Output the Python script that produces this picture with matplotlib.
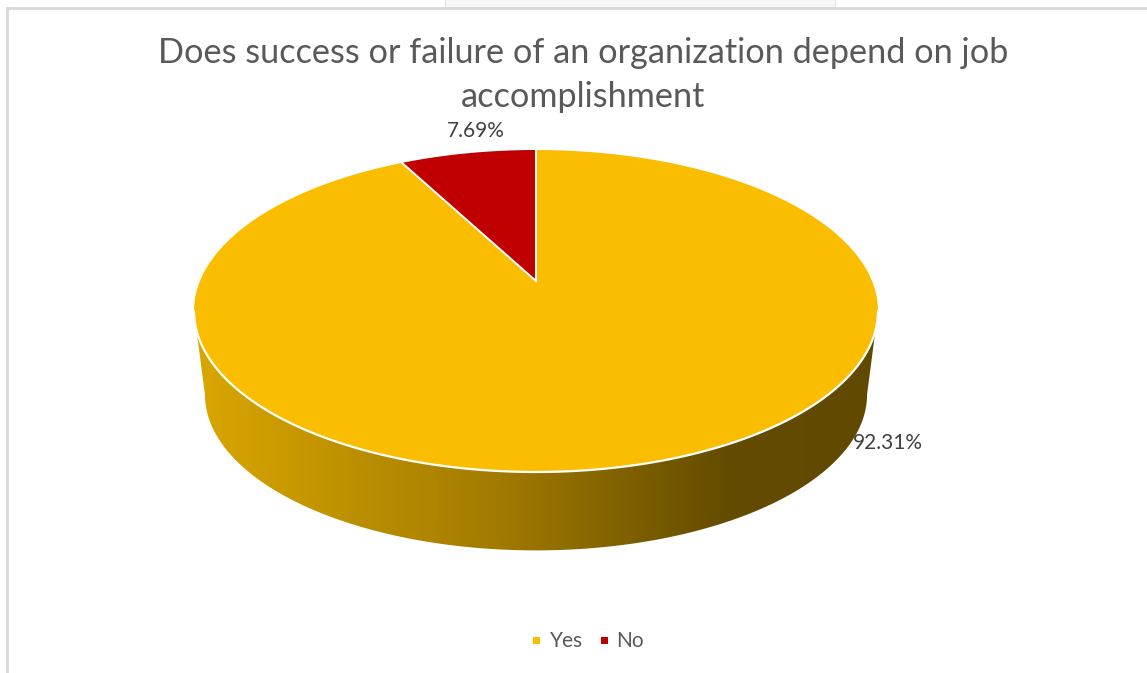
import numpy as np
import matplotlib
matplotlib.use("Agg")
import matplotlib.pyplot as plt
from matplotlib.patches import Polygon, Rectangle
from matplotlib.colors import LinearSegmentedColormap
from matplotlib.lines import Line2D

# ---- data ----
categories = ["Yes", "No"]
percentages = [92.31, 7.69]
slice_colors = ["#FABD00", "#C00000"]
label_text = ["92.31%", "7.69%"]
title = "Does success or failure of an organization depend on job\naccomplishment"

W, H = 1147, 673
fig = plt.figure(figsize=(W / 100, H / 100), dpi=100)
ax = fig.add_axes([0, 0, 1, 1])
ax.set_xlim(0, W)
ax.set_ylim(H, 0)
ax.axis("off")

FONT = ["Lato", "DejaVu Sans"]

# ---- 3D pie geometry (perspective-projected disc) ----
cx, cy = 536.0, 281.0       # projected centre of the top face
A, B, k = 336.0, 155.4, 0.1864
s_bot, dy_bot = 0.968, 84.5


def top_pt(t):
    u, v = np.sin(t), np.cos(t)
    d = 1 + k * v
    return cx + A * u / d, cy - B * v / d


def bot_pt(t):
    u, v = np.sin(t), np.cos(t)
    d = 1 + k * v
    return cx + s_bot * A * u / d, cy + dy_bot - s_bot * B * v / d


# side wall: near half between the two silhouette points
t_r = np.arccos(-k)
t_l = 2 * np.pi - t_r
tt = np.linspace(t_r, t_l, 400)
tx, ty = top_pt(tt)
bx, by = bot_pt(tt[::-1])
side_xy = np.column_stack([np.r_[tx, bx], np.r_[ty, by]])
side = Polygon(side_xy, closed=True, facecolor="none", edgecolor="none")
ax.add_patch(side)

grad_cmap = LinearSegmentedColormap.from_list(
    "side", [(0.0, "#DBA700"), (0.45, "#A17A00"), (0.78, "#634B00"), (1.0, "#614900")])
gx = np.linspace(0, 1, 512)[None, :]
img = ax.imshow(gx, cmap=grad_cmap, aspect="auto",
                extent=[190, 882, 560, 300], zorder=2, interpolation="bilinear")
img.set_clip_path(side)

# top face wedges, clockwise from 12 o'clock
fractions = np.array(percentages) / sum(percentages)
bounds = np.r_[0, np.cumsum(fractions)] * 2 * np.pi
for i, col in enumerate(slice_colors):
    ts = np.linspace(bounds[i], bounds[i + 1], 600)
    px, py = top_pt(ts)
    poly = np.column_stack([np.r_[cx, px], np.r_[cy, py]])
    ax.add_patch(Polygon(poly, closed=True, facecolor=col, edgecolor="none", zorder=3))

# white rim on the near edge and white wedge borders
rx, ry = top_pt(np.linspace(t_r, t_l, 400))
ax.plot(rx, ry, color="white", lw=1.6, zorder=4, solid_capstyle="round")
for b in bounds[:-1]:
    ex, ey = top_pt(b)
    ax.plot([cx, ex], [cy, ey], color="white", lw=1.4, zorder=4)

# data labels
ax.text(888, 443, label_text[0], ha="center", va="center", fontsize=15,
        color="#404040", family=FONT, zorder=5)
ax.text(476, 131, label_text[1], ha="center", va="center", fontsize=15,
        color="#404040", family=FONT, zorder=5)

# title
ax.text(583, 75, title, ha="center", va="center", fontsize=24.7,
        color="#595959", family=FONT, linespacing=1.48)

# legend
leg_y = 641
ax.add_patch(Rectangle((533, leg_y - 4), 7, 7, facecolor=slice_colors[0], edgecolor="none"))
ax.text(550, leg_y, categories[0], ha="left", va="center", fontsize=15,
        color="#595959", family=FONT)
ax.add_patch(Rectangle((601, leg_y - 4), 7, 7, facecolor=slice_colors[1], edgecolor="none"))
ax.text(616, leg_y, categories[1], ha="left", va="center", fontsize=15,
        color="#595959", family=FONT)

# chart frame
ax.add_line(Line2D([6.5, 6.5], [7.5, H], color="#D9D9D9", lw=2))
ax.add_line(Line2D([6.5, W], [7.5, 7.5], color="#D9D9D9", lw=2))
ax.add_patch(Rectangle((445, -1), 390, 7.5, facecolor="#F7F7F7", edgecolor="#E4E4E4", lw=0.8))

fig.savefig("out.png", dpi=100, facecolor="white")
